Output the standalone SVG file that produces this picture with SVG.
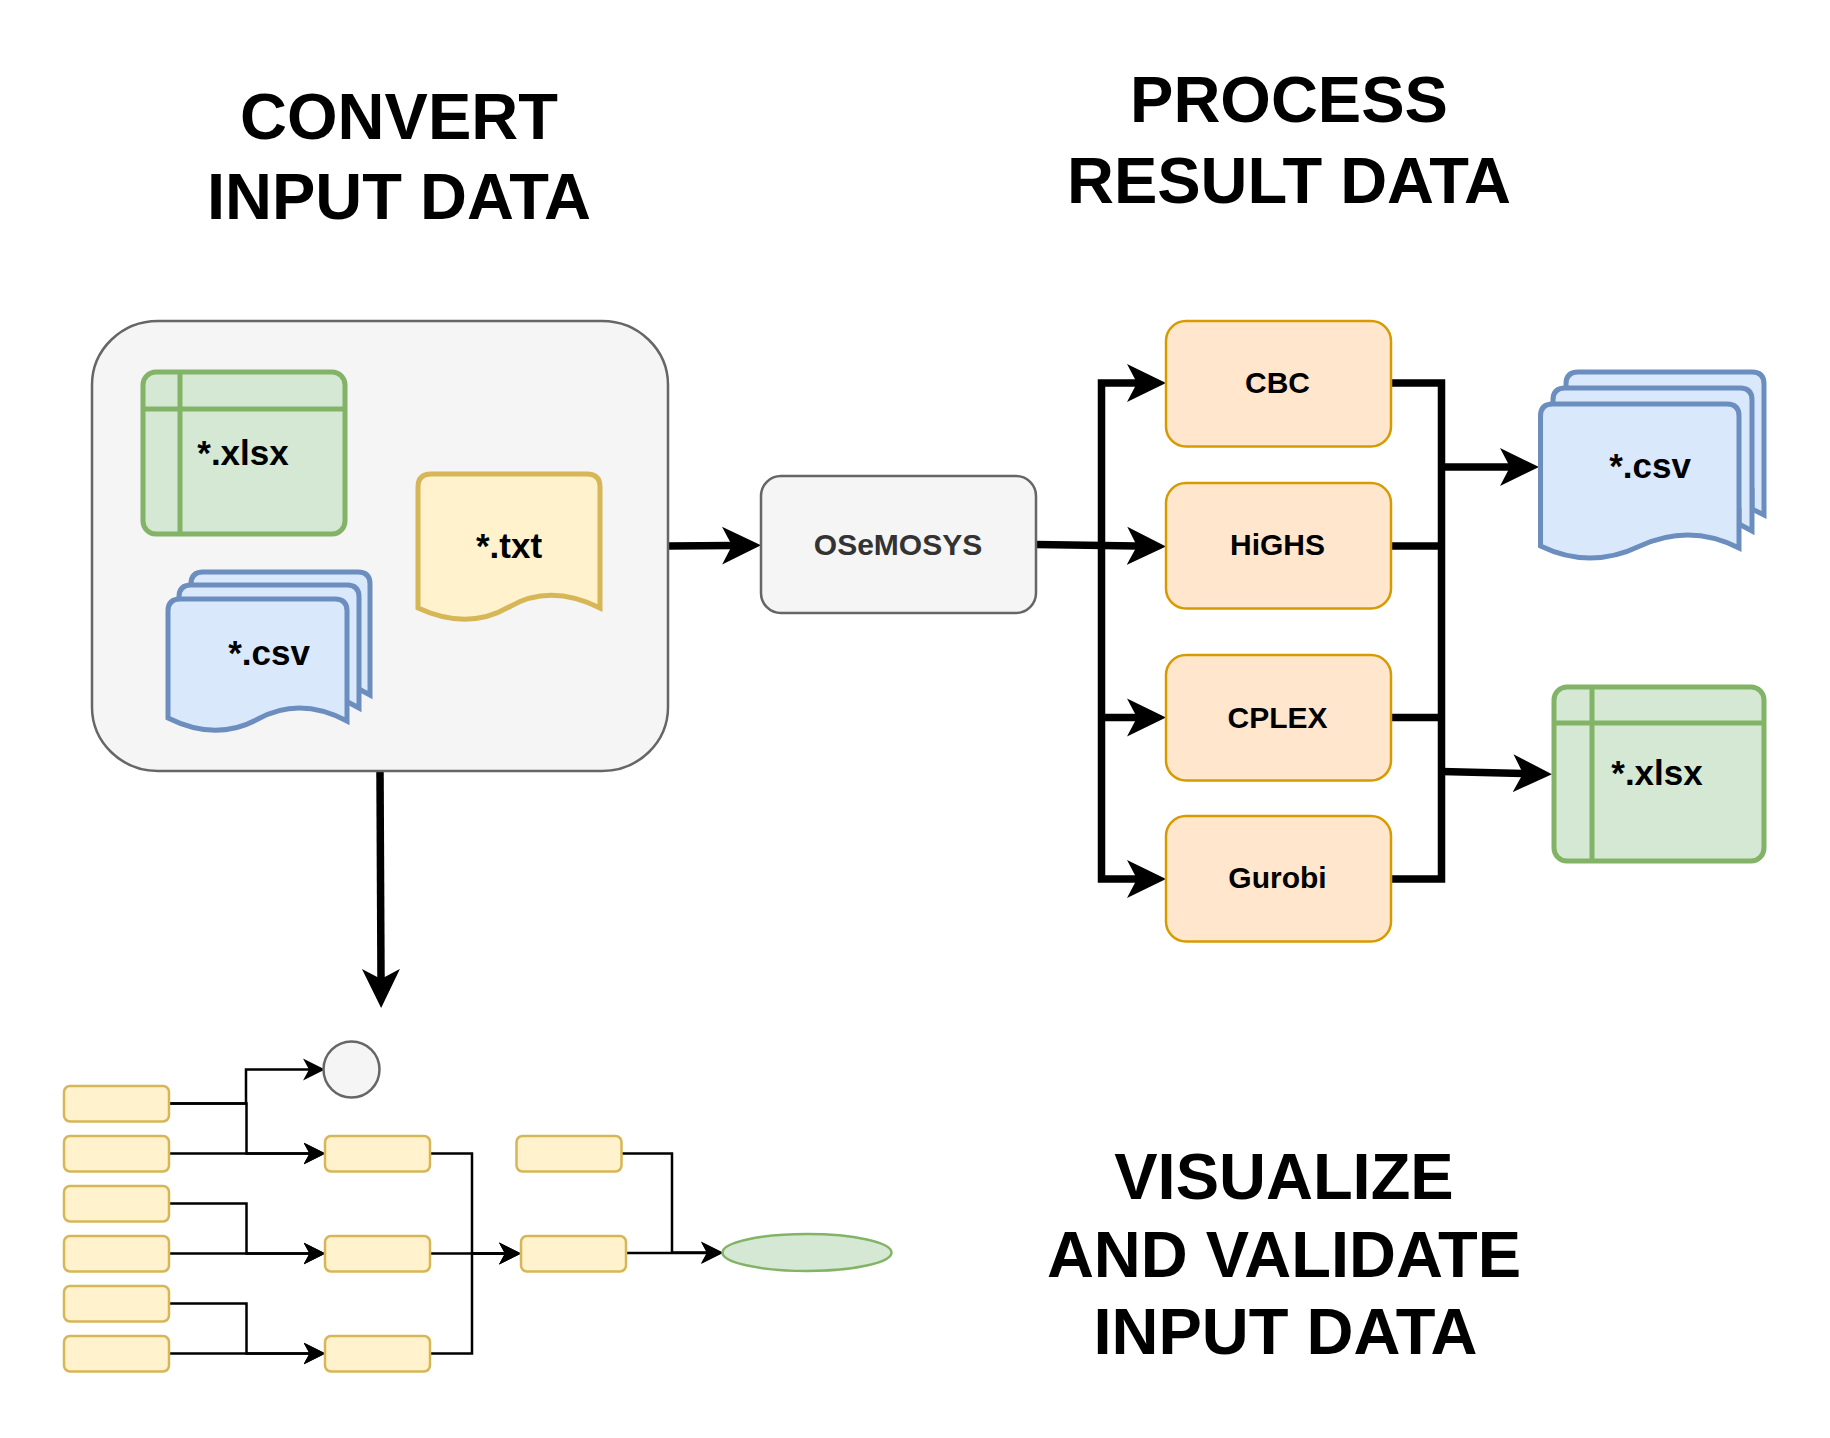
<svg xmlns="http://www.w3.org/2000/svg" width="1830" height="1438" viewBox="0 0 1830 1438">
<style>
text{font-family:"Liberation Sans",Arial,sans-serif;font-weight:bold;text-anchor:middle;fill:#000}
.title{font-size:65px}
.file{font-size:35px}
.solver{font-size:30px}
.green{fill:#d5e8d4;stroke:#82b366;stroke-width:5}
.blue{fill:#dae8fc;stroke:#6c8ebf;stroke-width:5}
.yellow{fill:#fff2cc;stroke:#d6b656;stroke-width:5}
.gray{fill:#f5f5f5;stroke:#666;stroke-width:2.5}
.orange{fill:#ffe6cc;stroke:#d79b00;stroke-width:2.5}
.cell{fill:#fff2cc;stroke:#d6b656;stroke-width:2.5}
.thick{fill:none;stroke:#000;stroke-width:7.5;marker-end:url(#big)}
.plain{fill:none;stroke:#000;stroke-width:7.5}
.thin{fill:none;stroke:#000;stroke-width:2.5;marker-end:url(#small)}
</style>
<defs>
<marker id="big" markerUnits="userSpaceOnUse" markerWidth="40" markerHeight="40" refX="10" refY="20" orient="auto"><path d="M0,1L39,20L0,39L10,20z" fill="#000"/></marker>
<marker id="small" markerUnits="userSpaceOnUse" markerWidth="24" markerHeight="26" refX="6" refY="13" orient="auto"><path d="M0,2L22,13L0,24L6,13z" fill="#000"/></marker>
</defs>
<rect width="1830" height="1438" fill="#fff"/>

<g id="title-convert"><text class="title" x="399" y="139">CONVERT</text><text class="title" x="399" y="219">INPUT DATA</text></g>
<g id="title-process"><text class="title" x="1289" y="122">PROCESS</text><text class="title" x="1289" y="203">RESULT DATA</text></g>
<g id="title-visualize"><text class="title" x="1284" y="1199">VISUALIZE</text><text class="title" x="1284" y="1277">AND VALIDATE</text><text class="title" x="1285.5" y="1354">INPUT DATA</text></g>

<g id="connectors">
<path class="plain" d="M1391,383H1441.5V879H1391"/>
<path class="plain" d="M1391,546H1441.5"/>
<path class="plain" d="M1391,717.5H1441.5"/>
<path class="thick" d="M668,546L732,545.5"/>
<path class="thick" d="M380,771L381,979"/>
<path class="thick" d="M1036,544.5L1137,546"/>
<path class="thick" d="M1101.5,544.5V383H1137"/>
<path class="thick" d="M1101.5,544.5V879H1137"/>
<path class="thick" d="M1101.5,717.5H1137"/>
<path class="thick" d="M1441.5,467H1510"/>
<path class="thick" d="M1441.5,771.5L1523,773.5"/>
<path class="thin" d="M169,1103.5H246V1069.5H309"/>
<path class="thin" d="M169,1103.5H246.5V1153.5H309.5"/>
<path class="thin" d="M169,1153.5H309.5"/>
<path class="thin" d="M169,1203.5H246.5V1253.5H309.5"/>
<path class="thin" d="M169,1253.5H309.5"/>
<path class="thin" d="M169,1303.5H246.5V1353.5H309.5"/>
<path class="thin" d="M169,1353.5H309.5"/>
<path class="thin" d="M430,1153.5H472V1253.5H505"/>
<path class="thin" d="M430,1253.5H505"/>
<path class="thin" d="M430,1353.5H472V1253.5H505"/>
<path class="thin" d="M621.5,1153.5H672V1252.5H707"/>
<path class="thin" d="M626,1253H707"/>
</g>

<g id="input-container"><rect class="gray" x="92" y="321" width="576" height="450" rx="66" ry="64"/></g>
<g id="input-xlsx"><rect class="green" x="143" y="372" width="202" height="162" rx="13"/><path class="green" d="M180,372V534M143,409H345"/><text class="file" x="243" y="465">*.xlsx</text></g>
<g id="input-txt"><path class="yellow" d="M418,608V487Q418,474 431,474H587Q600,474 600,487V608Q550,583 509,607Q468,631 418,608z"/><text class="file" x="509" y="558">*.txt</text></g>
<g id="input-csv">
<path class="blue" d="M191,680V584Q191,572 203,572H358Q370,572 370,584V695L355,687V680z"/>
<path class="blue" d="M179,690V597Q179,585 191,585H347Q359,585 359,597V708L344,700V690z"/>
<path class="blue" d="M168,718V611Q168,599 180,599H335Q347,599 347,611V721Q300,696 258,719Q216,742 168,718z"/>
<text class="file" x="269" y="665">*.csv</text></g>

<g id="osemosys"><rect class="gray" x="761" y="476" width="275" height="137" rx="20"/><text class="solver" x="898" y="554.5" style="fill:#333">OSeMOSYS</text></g>

<g id="cbc"><rect class="orange" x="1166" y="321" width="225" height="125.5" rx="20"/><text class="solver" x="1277.5" y="392.5">CBC</text></g>
<g id="highs"><rect class="orange" x="1166" y="483" width="225" height="125.5" rx="20"/><text class="solver" x="1277.5" y="554.5">HiGHS</text></g>
<g id="cplex"><rect class="orange" x="1166" y="655" width="225" height="125.5" rx="20"/><text class="solver" x="1277.5" y="727.5">CPLEX</text></g>
<g id="gurobi"><rect class="orange" x="1166" y="816" width="225" height="125.5" rx="20"/><text class="solver" x="1277.5" y="887.5">Gurobi</text></g>

<g id="output-csv">
<path class="blue" d="M1566,490V384Q1566,372 1578,372H1752Q1764,372 1764,384V515L1752,509V490z"/>
<path class="blue" d="M1553,510V400Q1553,388 1565,388H1740Q1752,388 1752,400V531L1739,524V510z"/>
<path class="blue" d="M1540.5,546V416Q1540.5,404 1552.5,404H1727Q1739,404 1739,416V548Q1690,523 1640,546Q1590,570 1540.5,546z"/>
<text class="file" x="1650" y="478">*.csv</text></g>
<g id="output-xlsx"><rect class="green" x="1554" y="687" width="210" height="174" rx="13"/><path class="green" d="M1592,687V861M1554,723H1764"/><text class="file" x="1657" y="785">*.xlsx</text></g>

<g id="source-1"><rect class="cell" x="64" y="1086" width="105" height="35.5" rx="6"/></g>
<g id="source-2"><rect class="cell" x="64" y="1136" width="105" height="35.5" rx="6"/></g>
<g id="source-3"><rect class="cell" x="64" y="1186" width="105" height="35.5" rx="6"/></g>
<g id="source-4"><rect class="cell" x="64" y="1236" width="105" height="35.5" rx="6"/></g>
<g id="source-5"><rect class="cell" x="64" y="1286" width="105" height="35.5" rx="6"/></g>
<g id="source-6"><rect class="cell" x="64" y="1336" width="105" height="35.5" rx="6"/></g>
<g id="mid-1"><rect class="cell" x="325" y="1136" width="105" height="35.5" rx="6"/></g>
<g id="mid-2"><rect class="cell" x="325" y="1236" width="105" height="35.5" rx="6"/></g>
<g id="mid-3"><rect class="cell" x="325" y="1336" width="105" height="35.5" rx="6"/></g>
<g id="upper-right"><rect class="cell" x="516.5" y="1136" width="105" height="35.5" rx="6"/></g>
<g id="lower-right"><rect class="cell" x="521" y="1236" width="105" height="35.5" rx="6"/></g>
<g id="circle"><ellipse class="gray" cx="351.5" cy="1069.5" rx="28" ry="28"/></g>
<g id="result-ellipse"><ellipse cx="807" cy="1252.5" rx="84.5" ry="18.5" fill="#d5e8d4" stroke="#82b366" stroke-width="2.5"/></g>
</svg>
